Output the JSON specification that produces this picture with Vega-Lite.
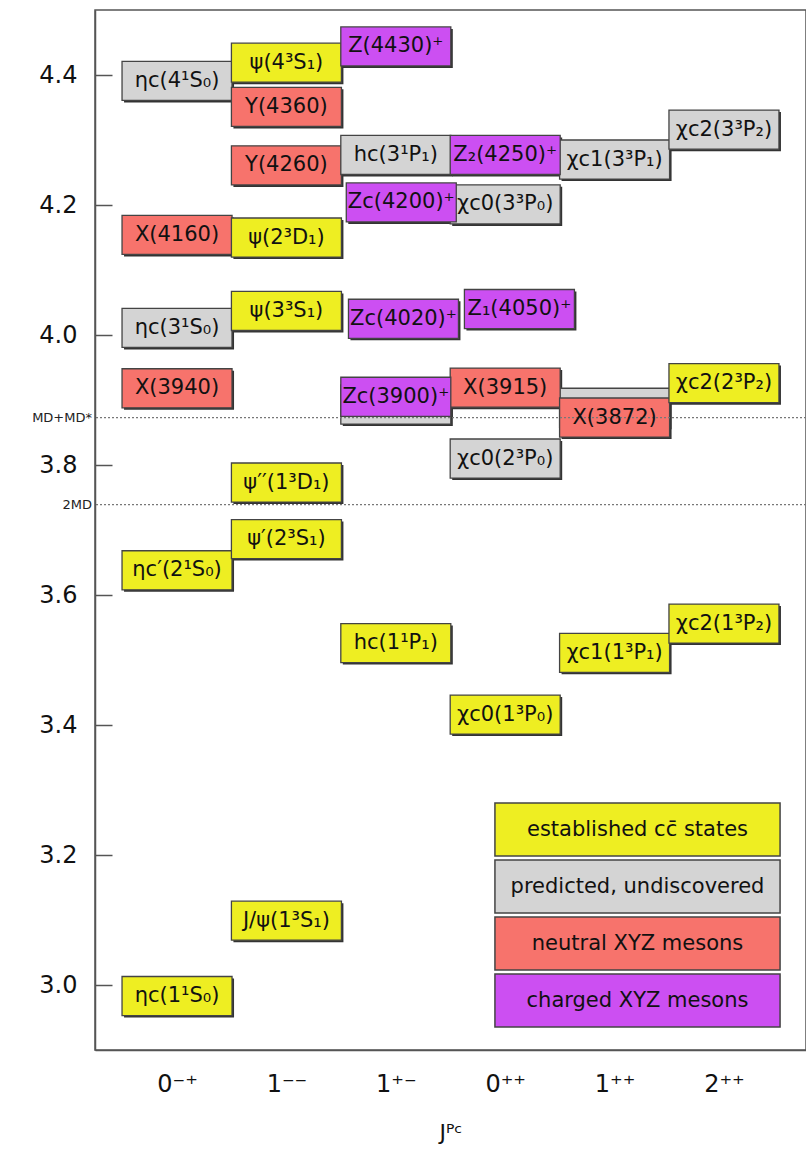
{
  "$schema": "https://vega.github.io/schema/vega-lite/v6.json",
  "width": 711,
  "height": 1040,
  "autosize": {"type": "none"},
  "padding": {"left": 95, "top": 10, "right": 0, "bottom": 100},
  "background": "white",
  "config": {
    "view": {"stroke": "#555", "strokeWidth": 1.5},
    "font": "DejaVu Sans"
  },
  "datasets": {
    "states": [
      {"name": "hc(2¹P₁)", "col": 2, "mass": 3.893, "type": "predicted, undiscovered", "hidden": true},
      {"name": "χc1(2³P₁)", "col": 4, "mass": 3.888, "type": "predicted, undiscovered", "hidden": true},
      {"name": "ηc(1¹S₀)", "col": 0, "mass": 2.983, "type": "established cc̄ states", "hidden": false},
      {"name": "ηc′(2¹S₀)", "col": 0, "mass": 3.638, "type": "established cc̄ states", "hidden": false},
      {"name": "X(3940)", "col": 0, "mass": 3.918, "type": "neutral XYZ mesons", "hidden": false},
      {"name": "ηc(3¹S₀)", "col": 0, "mass": 4.011, "type": "predicted, undiscovered", "hidden": false},
      {"name": "X(4160)", "col": 0, "mass": 4.154, "type": "neutral XYZ mesons", "hidden": false},
      {"name": "ηc(4¹S₀)", "col": 0, "mass": 4.391, "type": "predicted, undiscovered", "hidden": false},
      {"name": "J/ψ(1³S₁)", "col": 1, "mass": 3.099, "type": "established cc̄ states", "hidden": false},
      {"name": "ψ′(2³S₁)", "col": 1, "mass": 3.686, "type": "established cc̄ states", "hidden": false},
      {"name": "ψ′′(1³D₁)", "col": 1, "mass": 3.773, "type": "established cc̄ states", "hidden": false},
      {"name": "ψ(3³S₁)", "col": 1, "mass": 4.037, "type": "established cc̄ states", "hidden": false},
      {"name": "ψ(2³D₁)", "col": 1, "mass": 4.15, "type": "established cc̄ states", "hidden": false},
      {"name": "Y(4260)", "col": 1, "mass": 4.261, "type": "neutral XYZ mesons", "hidden": false},
      {"name": "Y(4360)", "col": 1, "mass": 4.351, "type": "neutral XYZ mesons", "hidden": false},
      {"name": "ψ(4³S₁)", "col": 1, "mass": 4.419, "type": "established cc̄ states", "hidden": false},
      {"name": "hc(1¹P₁)", "col": 2, "mass": 3.526, "type": "established cc̄ states", "hidden": false},
      {"name": "hc(3¹P₁)", "col": 2, "mass": 4.277, "type": "predicted, undiscovered", "hidden": false},
      {"name": "χc0(1³P₀)", "col": 3, "mass": 3.416, "type": "established cc̄ states", "hidden": false},
      {"name": "χc0(2³P₀)", "col": 3, "mass": 3.81, "type": "predicted, undiscovered", "hidden": false},
      {"name": "X(3915)", "col": 3, "mass": 3.919, "type": "neutral XYZ mesons", "hidden": false},
      {"name": "χc0(3³P₀)", "col": 3, "mass": 4.201, "type": "predicted, undiscovered", "hidden": false},
      {"name": "χc1(1³P₁)", "col": 4, "mass": 3.511, "type": "established cc̄ states", "hidden": false},
      {"name": "X(3872)", "col": 4, "mass": 3.873, "type": "neutral XYZ mesons", "hidden": false},
      {"name": "χc1(3³P₁)", "col": 4, "mass": 4.27, "type": "predicted, undiscovered", "hidden": false},
      {"name": "χc2(1³P₂)", "col": 5, "mass": 3.556, "type": "established cc̄ states", "hidden": false},
      {"name": "χc2(2³P₂)", "col": 5, "mass": 3.926, "type": "established cc̄ states", "hidden": false},
      {"name": "χc2(3³P₂)", "col": 5, "mass": 4.316, "type": "predicted, undiscovered", "hidden": false},
      {"name": "Zc(3900)⁺", "col": 2, "mass": 3.905, "type": "charged XYZ mesons", "hidden": false},
      {"name": "Zc(4020)⁺", "col": 2.07, "mass": 4.025, "type": "charged XYZ mesons", "hidden": false},
      {"name": "Zc(4200)⁺", "col": 2.05, "mass": 4.204, "type": "charged XYZ mesons", "hidden": false},
      {"name": "Z(4430)⁺", "col": 2, "mass": 4.444, "type": "charged XYZ mesons", "hidden": false},
      {"name": "Z₁(4050)⁺", "col": 3.13, "mass": 4.04, "type": "charged XYZ mesons", "hidden": false},
      {"name": "Z₂(4250)⁺", "col": 3, "mass": 4.277, "type": "charged XYZ mesons", "hidden": false}
    ],
    "thresholds": [
      {"name": "MD+MD*", "mass": 3.873},
      {"name": "2MD", "mass": 3.739}
    ]
  },
  "layer": [
    {
      "data": {"name": "states"},
      "mark": {"type": "point", "shape": "M-1,-0.355L1,-0.355L1,0.355L-1,0.355Z", "size": 12100, "filled": true, "fill": "#333", "opacity": 1, "strokeWidth": 0, "xOffset": 2, "yOffset": 2},
      "encoding": {
        "x": {"field": "col", "type": "quantitative", "scale": {"domain": [-0.75, 5.75], "nice": false, "zero": false},
          "axis": {"values": [0, 1, 2, 3, 4, 5], "labelExpr": "['0⁻⁺','1⁻⁻','1⁺⁻','0⁺⁺','1⁺⁺','2⁺⁺'][datum.value]", "ticks": false, "grid": false, "domainColor": "#555", "domainWidth": 1.5, "labelFontSize": 24, "labelColor": "#111", "labelPadding": 22, "title": "Jᴾᶜ", "titleFontSize": 22, "titleFontWeight": "normal", "titleColor": "#111", "titlePadding": 26}},
        "y": {"field": "mass", "type": "quantitative", "scale": {"domain": [2.9, 4.5], "nice": false, "zero": false},
          "axis": {"values": [3.0, 3.2, 3.4, 3.6, 3.8, 4.0, 4.2, 4.4], "format": ".1f", "grid": false, "tickSize": -17, "tickColor": "#555", "tickWidth": 1.5, "domainColor": "#555", "domainWidth": 1.5, "labelFontSize": 24, "labelColor": "#111", "labelPadding": 35, "title": null}}
      }
    },
    {
      "data": {"name": "states"},
      "mark": {"type": "point", "shape": "M-1,-0.355L1,-0.355L1,0.355L-1,0.355Z", "size": 12100, "filled": true, "opacity": 1, "stroke": "#444", "strokeWidth": 1.3},
      "encoding": {
        "x": {"field": "col", "type": "quantitative"},
        "y": {"field": "mass", "type": "quantitative"},
        "fill": {"field": "type", "type": "nominal",
          "scale": {"domain": ["established cc̄ states", "predicted, undiscovered", "neutral XYZ mesons", "charged XYZ mesons"], "range": ["#eeee22", "#d4d4d4", "#f7736c", "#cc4ff2"]},
          "legend": {"title": null, "orient": "none", "legendX": 515, "legendY": 792, "padding": 0, "rowPadding": -5,
            "symbolType": "M-5.38,-1L5.38,-1L5.38,1L-5.38,1Z", "symbolSize": 2809, "symbolStrokeColor": "#444", "symbolStrokeWidth": 1.5, "symbolOpacity": 1,
            "labelAlign": "center", "labelOffset": -27.5, "labelFontSize": 21, "labelColor": "#111", "labelLimit": 400,
            "encode": {"symbols": {"update": {"shape": {"value": "M-5.38,-1L5.38,-1L5.38,1L-5.38,1Z"}, "size": {"value": 2809}, "stroke": {"value": "#444"}, "strokeWidth": {"value": 1.5}, "opacity": {"value": 1}}}}}
        }
      }
    },
    {
      "data": {"name": "thresholds"},
      "mark": {"type": "rule", "stroke": "#777", "strokeWidth": 1.3, "strokeDash": [2, 2]},
      "encoding": {"y": {"field": "mass", "type": "quantitative"}}
    },
    {
      "data": {"name": "thresholds"},
      "mark": {"type": "text", "align": "right", "baseline": "middle", "dx": -3, "fontSize": 13, "color": "#222"},
      "encoding": {
        "x": {"datum": -0.75, "type": "quantitative"},
        "y": {"field": "mass", "type": "quantitative"},
        "text": {"field": "name"}
      }
    },
    {
      "data": {"name": "states"},
      "transform": [{"filter": "!datum.hidden"}],
      "mark": {"type": "text", "align": "center", "baseline": "middle", "fontSize": 21, "color": "#111"},
      "encoding": {
        "x": {"field": "col", "type": "quantitative"},
        "y": {"field": "mass", "type": "quantitative"},
        "text": {"field": "name"}
      }
    }
  ]
}
